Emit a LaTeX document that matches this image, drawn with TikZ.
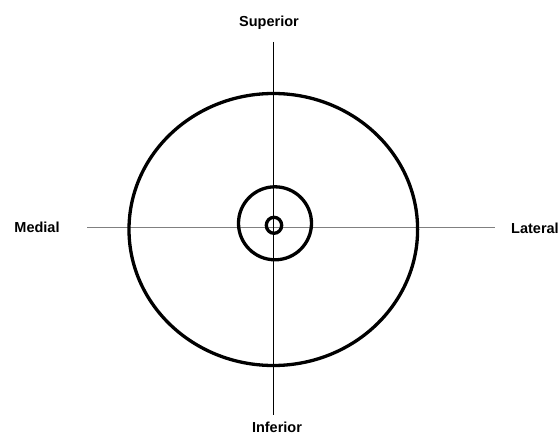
\documentclass[tikz,border=0pt]{standalone}
\usepackage{fontspec}
\setmainfont{Liberation Sans}
\begin{document}
\begin{tikzpicture}[x=1pt,y=-1pt,
  lbl/.style={font=\fontsize{14.5}{16}\selectfont\bfseries, inner sep=0pt},
  ring/.style={draw=black, line width=3.3pt},
  vaxis/.style={draw=black, line width=1pt},
  haxis/.style={draw=black!50, line width=1.3pt}]
\useasboundingbox (0,0) rectangle (560,436);
\node[lbl] (sup) at (269,23) {Superior};
\node[lbl] (med) at (37,227) {Medial};
\node[lbl] (lat) at (535,228) {Lateral};
\node[lbl] (inf) at (277,427) {Inferior};
\coordinate (vt) at (273.3,42);
\coordinate (vb) at (273.3,415);
\coordinate (hl) at (87,227.5);
\coordinate (hr) at (495,227.5);
\draw[haxis] (hl) -- (hr);
\draw[vaxis] (vt) -- (vb);
\draw[ring] (273.3,229.5) ellipse [x radius=144.3, y radius=136];
\draw[ring] (275,223.3) circle [radius=36.5];
\draw[ring] (274,225.3) ellipse [x radius=7.7, y radius=8];
\end{tikzpicture}
\end{document}
